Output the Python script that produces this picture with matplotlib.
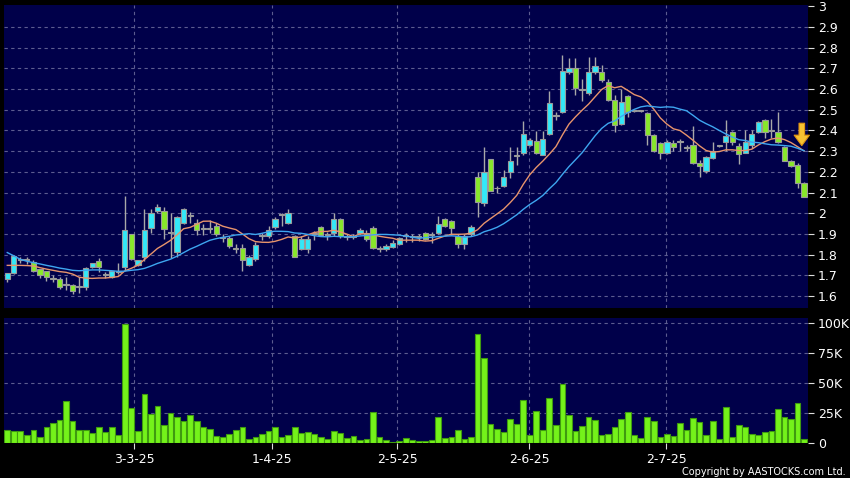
import numpy as np
import pandas as pd
import matplotlib
matplotlib.use("Agg")
import matplotlib.pyplot as plt

# daily candles (Feb - Aug 2025)
opens = [1.681, 1.710, 1.775, 1.775, 1.766, 1.729, 1.719, 1.689, 1.681, 1.652,
         1.655, 1.642, 1.645, 1.739, 1.768, 1.702, 1.690, 1.715, 1.739, 1.898,
         1.751, 1.790, 1.929, 2.010, 2.010, 1.905, 1.812, 1.953, 1.985, 1.953,
         1.924, 1.924, 1.937, 1.880, 1.879, 1.828, 1.833, 1.751, 1.780, 1.890,
         1.892, 1.931, 1.992, 1.955, 1.890, 1.829, 1.826, 1.900, 1.931, 1.897,
         1.906, 1.974, 1.887, 1.887, 1.903, 1.906, 1.929, 1.829, 1.829, 1.839,
         1.853, 1.890, 1.887, 1.885, 1.905, 1.895, 1.906, 1.971, 1.960, 1.890,
         1.852, 1.900, 2.177, 2.048, 2.261, 2.120, 2.132, 2.197, 2.277, 2.290,
         2.330, 2.347, 2.283, 2.382, 2.470, 2.491, 2.680, 2.700, 2.595, 2.580,
         2.683, 2.680, 2.635, 2.547, 2.430, 2.568, 2.495, 2.494, 2.486, 2.378,
         2.340, 2.290, 2.338, 2.346, 2.314, 2.328, 2.241, 2.206, 2.269, 2.325,
         2.346, 2.394, 2.327, 2.293, 2.330, 2.390, 2.450, 2.402, 2.394, 2.322,
         2.253, 2.232, 2.148]
highs = [1.713, 1.798, 1.790, 1.790, 1.774, 1.732, 1.722, 1.700, 1.690, 1.690,
         1.660, 1.690, 1.742, 1.761, 1.785, 1.718, 1.722, 1.761, 2.081, 1.900,
         1.775, 2.020, 2.020, 2.045, 2.030, 2.000, 1.985, 2.024, 2.004, 1.972,
         1.950, 1.965, 1.955, 1.900, 1.890, 1.850, 1.850, 1.800, 1.860, 1.905,
         1.940, 1.980, 2.003, 2.020, 1.893, 1.890, 1.890, 1.915, 1.940, 1.910,
         2.003, 1.979, 1.900, 1.900, 1.930, 1.920, 1.940, 1.840, 1.850, 1.870,
         1.887, 1.903, 1.900, 1.900, 1.910, 1.911, 1.987, 1.976, 1.965, 1.900,
         1.900, 1.945, 2.200, 2.320, 2.262, 2.130, 2.210, 2.320, 2.320, 2.444,
         2.362, 2.395, 2.395, 2.590, 2.490, 2.766, 2.750, 2.750, 2.650, 2.755,
         2.755, 2.715, 2.650, 2.570, 2.600, 2.571, 2.500, 2.500, 2.490, 2.382,
         2.345, 2.352, 2.354, 2.357, 2.330, 2.420, 2.257, 2.276, 2.346, 2.330,
         2.450, 2.398, 2.338, 2.400, 2.400, 2.446, 2.453, 2.453, 2.490, 2.325,
         2.258, 2.241, 2.152]
lows = [1.669, 1.706, 1.758, 1.755, 1.715, 1.685, 1.674, 1.670, 1.632, 1.630,
        1.610, 1.613, 1.629, 1.734, 1.718, 1.685, 1.685, 1.705, 1.726, 1.775,
        1.745, 1.770, 1.905, 2.000, 1.873, 1.785, 1.790, 1.948, 1.953, 1.897,
        1.897, 1.905, 1.890, 1.862, 1.830, 1.810, 1.719, 1.745, 1.770, 1.870,
        1.880, 1.925, 1.940, 1.947, 1.787, 1.820, 1.810, 1.870, 1.889, 1.870,
        1.890, 1.882, 1.872, 1.875, 1.900, 1.866, 1.826, 1.813, 1.815, 1.830,
        1.845, 1.863, 1.862, 1.865, 1.872, 1.855, 1.900, 1.935, 1.895, 1.830,
        1.826, 1.890, 1.980, 2.035, 2.105, 2.100, 2.125, 2.170, 2.235, 2.282,
        2.325, 2.285, 2.280, 2.378, 2.450, 2.483, 2.675, 2.570, 2.540, 2.570,
        2.675, 2.635, 2.542, 2.390, 2.427, 2.467, 2.490, 2.488, 2.330, 2.296,
        2.264, 2.285, 2.300, 2.300, 2.300, 2.238, 2.177, 2.193, 2.262, 2.320,
        2.300, 2.330, 2.240, 2.290, 2.315, 2.387, 2.363, 2.363, 2.338, 2.250,
        2.224, 2.120, 2.078]
closes = [1.710, 1.795, 1.775, 1.775, 1.721, 1.700, 1.690, 1.681, 1.645, 1.652,
          1.626, 1.642, 1.735, 1.758, 1.739, 1.702, 1.719, 1.722, 1.919, 1.777,
          1.772, 1.918, 2.001, 2.030, 1.926, 1.905, 1.982, 2.020, 1.985, 1.921,
          1.924, 1.924, 1.900, 1.884, 1.841, 1.828, 1.772, 1.790, 1.844, 1.890,
          1.918, 1.974, 1.992, 2.003, 1.790, 1.877, 1.877, 1.900, 1.894, 1.897,
          1.974, 1.890, 1.887, 1.887, 1.919, 1.874, 1.834, 1.829, 1.842, 1.855,
          1.881, 1.890, 1.887, 1.885, 1.876, 1.895, 1.948, 1.939, 1.927, 1.852,
          1.890, 1.935, 2.052, 2.197, 2.108, 2.120, 2.177, 2.253, 2.277, 2.384,
          2.355, 2.291, 2.358, 2.531, 2.470, 2.686, 2.700, 2.603, 2.595, 2.680,
          2.710, 2.643, 2.547, 2.427, 2.539, 2.491, 2.495, 2.494, 2.376, 2.300,
          2.290, 2.345, 2.320, 2.346, 2.314, 2.241, 2.228, 2.270, 2.299, 2.325,
          2.373, 2.346, 2.286, 2.346, 2.381, 2.442, 2.390, 2.396, 2.346, 2.250,
          2.229, 2.148, 2.078]
volume_k = [11, 9.7, 10, 7, 11, 5, 13, 17, 19, 35,
            18, 10.5, 11, 8, 13, 9, 13, 7, 99, 29,
            10, 41, 24, 31, 15, 25, 22, 18, 23, 18,
            13, 12, 5.5, 5, 7.5, 11, 13, 3.3, 4.7, 7.8,
            9.7, 13, 5.3, 6.7, 13, 8.3, 9, 7.5, 5.3, 3.6,
            10, 8.6, 4.2, 6, 2.2, 3.6, 25.5, 5.3, 2.8, 0.8,
            1.4, 4.2, 2.8, 2, 2, 2.8, 21.7, 4.4, 5.3, 10.8,
            3.6, 5.3, 91, 71, 16, 12, 9.4, 20, 16, 36,
            7, 27, 11, 38, 15, 49.5, 23, 10, 14, 22,
            19, 6.7, 7.2, 13, 20, 26, 7, 4.4, 21.7, 18,
            5.3, 7.2, 5.5, 17, 10.5, 21, 17.5, 7, 18, 3.3,
            30, 4.7, 15, 13, 7.8, 6.7, 9.2, 10, 28.6, 21.7,
            20, 33, 3.6]

# moving averages before enough history exists, as drawn on the chart
ma10_head = [1.748, 1.748, 1.748, 1.747, 1.745, 1.737, 1.730, 1.724, 1.718]
ma20_head = [1.810, 1.794, 1.777, 1.768, 1.761, 1.755, 1.748, 1.742, 1.735, 1.730,
             1.724, 1.722, 1.724, 1.726, 1.726, 1.724, 1.722, 1.719, 1.720]

date_labels = ["3-3-25", "1-4-25", "2-5-25", "2-6-25", "2-7-25"]
date_pos = [19.4, 40.5, 59.7, 79.9, 100.9]

price_ticks = np.round(np.arange(1.6, 3.01, 0.1), 1)
vol_ticks = [0, 25, 50, 75, 100]

o = np.array(opens)
h = np.array(highs)
l = np.array(lows)
c = np.array(closes)
v = np.array(volume_k) * 1000
x = np.arange(len(c))

ma10 = pd.Series(c).rolling(10).mean().to_numpy()
ma10[:len(ma10_head)] = ma10_head
ma20 = pd.Series(c).rolling(20).mean().to_numpy()
ma20[:len(ma20_head)] = ma20_head

navy = "#00004a"
grid_col = "#5c5c90"
up_col = "#33e8f8"
dn_col = "#88e82a"

fig = plt.figure(figsize=(8.5, 4.78), dpi=100, facecolor="black")
ax1 = fig.add_axes([4 / 850, 1 - 308 / 478, 804 / 850, 303 / 478])
ax2 = fig.add_axes([4 / 850, 1 - 443 / 478, 804 / 850, 125 / 478])

for ax in (ax1, ax2):
    ax.set_facecolor(navy)
    ax.set_xlim(-0.5, len(c) - 0.4)
    for s in ax.spines.values():
        s.set_visible(False)
    ax.yaxis.tick_right()
    ax.tick_params(axis="y", colors="#dddddd", labelcolor="white", labelsize=9,
                   length=4, width=0.8, pad=3)
    ax.set_xticks(date_pos)
    for p in date_pos:
        ax.axvline(p, color=grid_col, lw=0.8, ls=(0, (3, 3)), zorder=0)

# price panel
ax1.set_ylim(1.542, 3.006)
ax1.set_yticks(price_ticks)
ax1.set_yticklabels([f"{t:g}" for t in price_ticks])
for t in price_ticks[:-1]:
    ax1.axhline(t, color=grid_col, lw=0.8, ls=(0, (3, 3)), zorder=0)
ax1.tick_params(axis="x", length=0, labelbottom=False)

up = c >= o
ax1.vlines(x, l, h, color="#a8a8a8", lw=1, zorder=2)
body_lo = np.minimum(o, c)
body_h = np.maximum(np.abs(c - o), 0.004)
ax1.bar(x[up], body_h[up], bottom=body_lo[up], width=0.8, color=up_col,
        edgecolor="#9a9a9a", lw=0.8, zorder=3)
ax1.bar(x[~up], body_h[~up], bottom=body_lo[~up], width=0.8, color=dn_col,
        edgecolor="#9a9a9a", lw=0.8, zorder=3)

ax1.plot(x, ma10, color="#e8946c", lw=1, zorder=4)
ax1.plot(x, ma20, color="#3ea6f0", lw=1, zorder=4)

# down arrow marker over the latest bar
tip = ma20[-1] + 0.025
ax1.annotate("", xy=(x[-1] - 0.35, tip), xytext=(x[-1] - 0.35, tip + 0.108),
             arrowprops=dict(arrowstyle="simple,head_width=1.1,head_length=0.75,tail_width=0.4",
                             fc="#f8c232", ec="#e09412", lw=0.8, mutation_scale=10,
                             shrinkA=0, shrinkB=0),
             zorder=6)

# volume panel
ax2.set_ylim(0, 104400)
ax2.set_yticks([t * 1000 for t in vol_ticks])
ax2.set_yticklabels(["0" if t == 0 else f"{t}K" for t in vol_ticks])
for t in vol_ticks[1:]:
    ax2.axhline(t * 1000, color=grid_col, lw=0.8, ls=(0, (3, 3)), zorder=0)
ax2.bar(x, v, width=0.88, color="#74f21a", edgecolor="#3f9a10", lw=0.8, zorder=3)
ax2.set_xticklabels(date_labels)
ax2.tick_params(axis="x", colors="#dddddd", labelcolor="white", labelsize=9,
                length=4, width=0.8, pad=3)

fig.text(0.995, 0.002, "Copyright by AASTOCKS.com Ltd.", color="white",
         fontsize=7, ha="right", va="bottom")

fig.savefig("out.png", dpi=100, facecolor="black")
